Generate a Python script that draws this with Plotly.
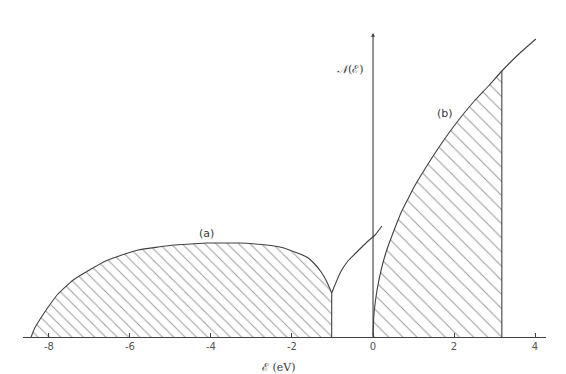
import plotly.graph_objects as go

# --- data (energy in eV, DOS in arbitrary units) ---
tick_vals = [-8, -6, -4, -2, 0, 2, 4]
tick_text = ["-8", "-6", "-4", "-2", "0", "2", "4"]

band_a_eps = [-8.44, -8.35, -8.2, -8.0, -7.8, -7.4, -7.0, -6.6, -6.2, -5.8, -5.3, -4.9, -4.5,
              -4.1, -3.7, -3.3, -2.9, -2.44, -2.2, -2.0, -1.8, -1.6, -1.44, -1.28, -1.15, -1.02]
band_a_dos = [0, 9, 19, 31, 42, 57, 67, 76, 82, 87, 90, 92, 93,
              94, 94, 94, 93, 91, 89, 86, 83, 79, 73, 65, 56, 44]

tail_eps = [-1.02, -0.94, -0.8, -0.62, -0.45, -0.30, -0.12, 0.05, 0.22]
tail_dos = [44, 52, 65, 76, 83, 89, 96, 102, 111]

band_b_eps = [0, 0.02, 0.05, 0.1, 0.2, 0.3, 0.4, 0.55, 0.7, 0.85, 1.0, 1.25, 1.5, 1.75,
              2.0, 2.25, 2.5, 2.85, 3.18]
band_b_dos = [0, 21, 33, 47, 67, 82, 94, 110, 125, 137, 149, 166, 182, 197,
              211, 224, 236, 251, 266]
band_b_ext_eps = [3.18, 3.6, 4.02]
band_b_ext_dos = [266, 283, 298]

fermi_cut = 3.18
gap_edge = -1.02

LINE = "#404040"
TXT = "#3a3a3a"
HATCH = "#3c3c3c"

fig = go.Figure()

# band (a): hatched fill
fig.add_trace(go.Scatter(
    x=band_a_eps + [gap_edge, band_a_eps[0]],
    y=band_a_dos + [0, 0],
    mode="lines", line=dict(width=0),
    fill="toself", fillcolor="white",
    fillpattern=dict(shape="\\", size=8, solidity=0.13, fgcolor=HATCH, bgcolor="white"),
    hoverinfo="skip", showlegend=False))
# band (a) outline
fig.add_trace(go.Scatter(
    x=band_a_eps, y=band_a_dos, mode="lines",
    line=dict(color=LINE, width=1.1, shape="spline", smoothing=0.5),
    hoverinfo="skip", showlegend=False))
fig.add_trace(go.Scatter(
    x=[gap_edge, gap_edge], y=[band_a_dos[-1], 0], mode="lines",
    line=dict(color=LINE, width=1.1), hoverinfo="skip", showlegend=False))

# tail rising from the gap edge
fig.add_trace(go.Scatter(
    x=tail_eps, y=tail_dos, mode="lines",
    line=dict(color=LINE, width=1.1, shape="spline", smoothing=0.5),
    hoverinfo="skip", showlegend=False))

# band (b): hatched fill up to cut
fig.add_trace(go.Scatter(
    x=band_b_eps + [fermi_cut, 0],
    y=band_b_dos + [0, 0],
    mode="lines", line=dict(width=0),
    fill="toself", fillcolor="white",
    fillpattern=dict(shape="\\", size=10, solidity=0.11, fgcolor=HATCH, bgcolor="white"),
    hoverinfo="skip", showlegend=False))
fig.add_trace(go.Scatter(
    x=band_b_eps + band_b_ext_eps[1:], y=band_b_dos + band_b_ext_dos[1:], mode="lines",
    line=dict(color=LINE, width=1.1, shape="spline", smoothing=0.5),
    hoverinfo="skip", showlegend=False))
fig.add_trace(go.Scatter(
    x=[fermi_cut, fermi_cut], y=[band_b_dos[-1], 0], mode="lines",
    line=dict(color=LINE, width=1.1), hoverinfo="skip", showlegend=False))

annotations = [
    # vertical axis with arrow
    dict(x=0, y=304, ax=0, ay=0, xref="x", yref="y", axref="x", ayref="y",
         showarrow=True, arrowhead=2, arrowsize=0.7, arrowwidth=1.1, arrowcolor=LINE, text=""),
    dict(x=-0.55, y=268, xref="x", yref="y", text="<i>𝒩</i>(ℰ)", showarrow=False,
         font=dict(family="DejaVu Serif", size=11, color=TXT)),
    dict(x=-4.12, y=104, xref="x", yref="y", text="(a)", showarrow=False,
         font=dict(family="DejaVu Sans", size=11, color=TXT)),
    dict(x=1.78, y=224, xref="x", yref="y", text="(b)", showarrow=False,
         font=dict(family="DejaVu Sans", size=11, color=TXT)),
    dict(x=-2.32, y=-0.126, xref="x", yref="paper", text="ℰ (eV)", showarrow=False,
         font=dict(family="DejaVu Serif", size=11, color=TXT)),
    dict(x=-0.88, y=-0.126, ax=-1.78, ay=0, xref="x", yref="paper", axref="x", ayref="pixel",
         showarrow=True, arrowhead=2, arrowsize=0.8, arrowwidth=1, arrowcolor=LINE, text=""),
]

fig.update_layout(
    width=566, height=374, autosize=False,
    margin=dict(l=15, r=28, t=20, b=45),
    paper_bgcolor="white", plot_bgcolor="white",
    annotations=annotations,
    xaxis=dict(range=[-8.64, 4.27], showgrid=False, zeroline=False,
               showline=True, linecolor=LINE, linewidth=1.1,
               tickmode="array", tickvals=tick_vals, ticktext=tick_text,
               ticks="inside", ticklen=4, tickcolor=LINE,
               tickfont=dict(family="DejaVu Sans", size=10, color="#555")),
    yaxis=dict(range=[0, 309], visible=False),
)

fig.write_html("out.html")
